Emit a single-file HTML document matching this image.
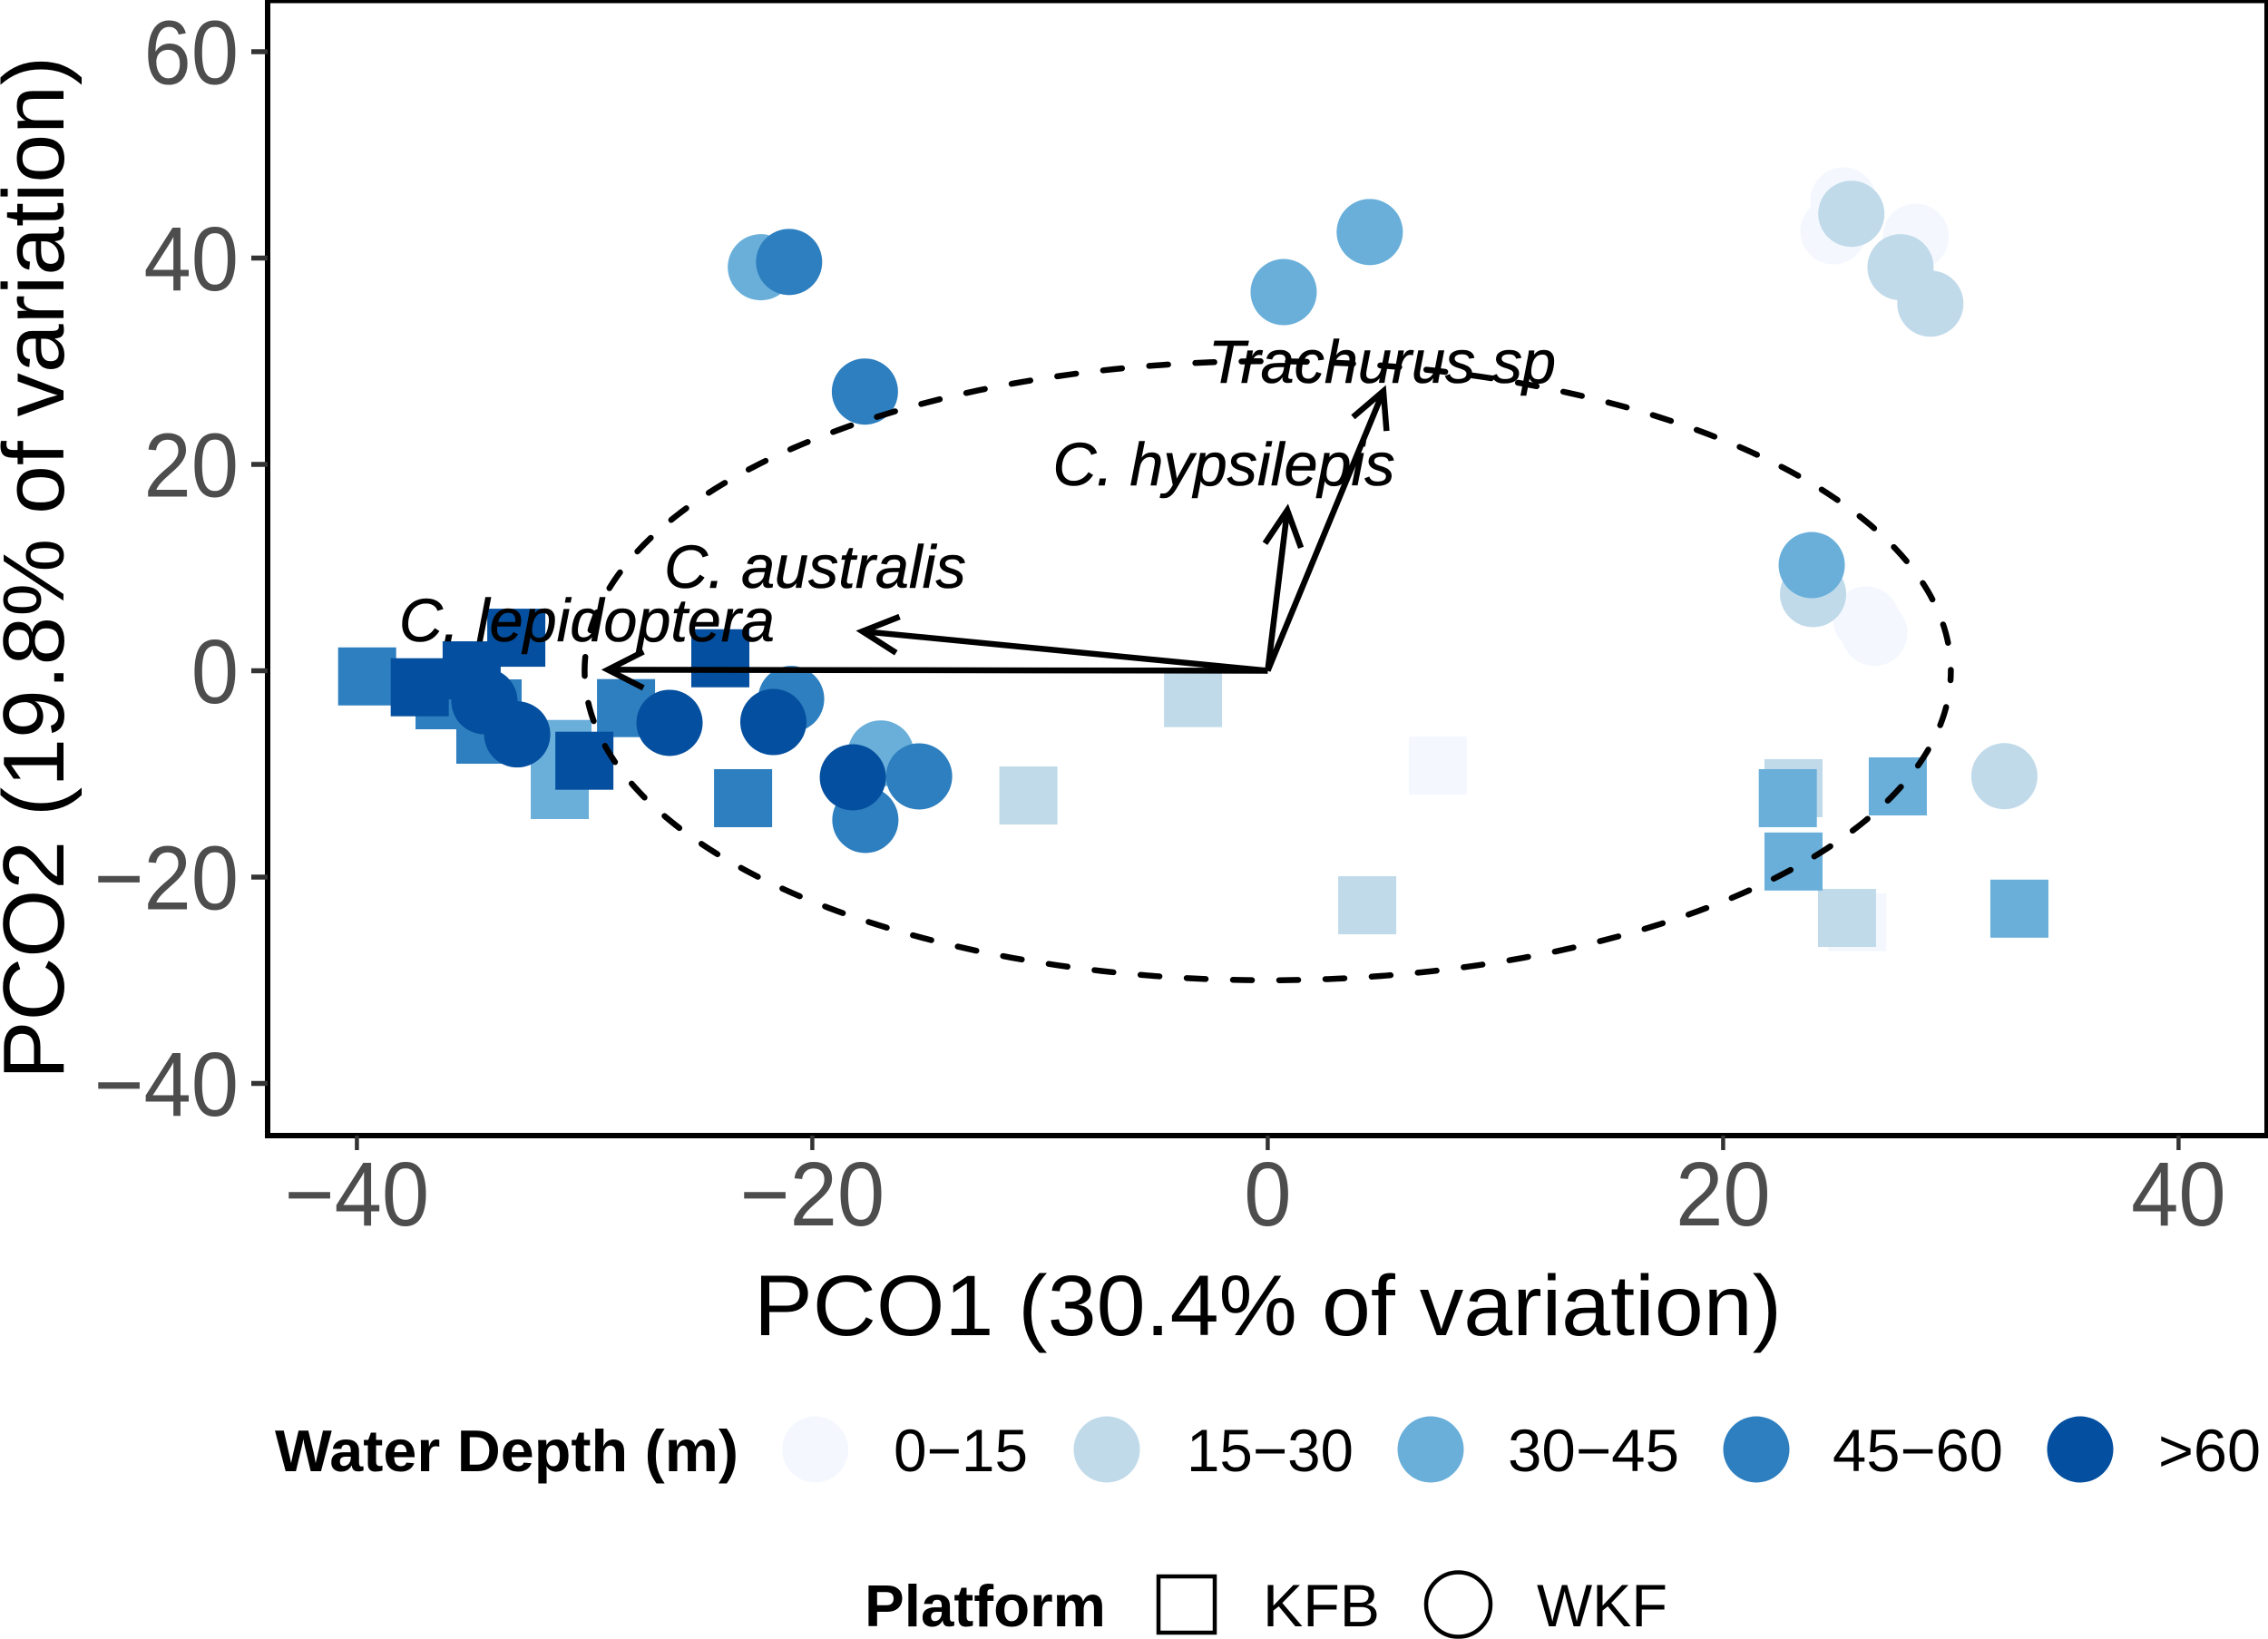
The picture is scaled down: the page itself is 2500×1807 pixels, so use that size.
<!DOCTYPE html>
<html lang="en">
<head>
<meta charset="utf-8">
<title>PCO ordination of water depth and platform</title>
<style>
  html, body { margin: 0; padding: 0; background: #fff; }
  svg { display: block; font-family: "Liberation Sans", Arial, sans-serif; }
</style>
</head>
<body>
<svg id="chart" xmlns="http://www.w3.org/2000/svg" width="2500" height="1807" viewBox="0 0 2500 1807">
  <rect x="0" y="0" width="2500" height="1807" fill="#ffffff"/>
  <g id="points"></g>
  <path id="circle-guide" fill="none" stroke="#000" stroke-width="6.5" stroke-linecap="round" stroke-dasharray="21 30" stroke-dashoffset="10.5"/>
  <g id="arrows"></g>
  <g id="arrow-labels"></g>
  <rect x="295" y="1.5" width="2203" height="1250.5" fill="none" stroke="#000" stroke-width="4"/>
  <line x1="295" y1="0" x2="295" y2="1255" stroke="#000" stroke-width="6"/>
  <line x1="292" y1="1252" x2="2500" y2="1252" stroke="#000" stroke-width="6"/>
  <g id="x-axis"></g>
  <g id="y-axis"></g>
  <text x="831" y="1472" font-size="95" textLength="1133" lengthAdjust="spacingAndGlyphs" fill="#000">PCO1 (30.4% of variation)</text>
  <text transform="translate(70,1190) rotate(-90)" x="0" y="0" font-size="96" textLength="1128" lengthAdjust="spacingAndGlyphs" fill="#000">PCO2 (19.8% of variation)</text>

  <g>
    <text x="303" y="1622" font-size="65" font-weight="bold" textLength="511" lengthAdjust="spacingAndGlyphs">Water Depth (m)</text>
    <circle cx="898.6" cy="1598" r="36.5" fill="#F4F8FE"/>
    <text x="985" y="1622" font-size="66" textLength="148" lengthAdjust="spacingAndGlyphs">0−15</text>
    <circle cx="1220" cy="1598" r="36.5" fill="#C0DAEA"/>
    <text x="1308" y="1622" font-size="66" textLength="184" lengthAdjust="spacingAndGlyphs">15−30</text>
    <circle cx="1577" cy="1598" r="36.5" fill="#69AFDA"/>
    <text x="1662" y="1622" font-size="66" textLength="189" lengthAdjust="spacingAndGlyphs">30−45</text>
    <circle cx="1936" cy="1598" r="36.5" fill="#2E7FBF"/>
    <text x="2020" y="1622" font-size="66" textLength="188" lengthAdjust="spacingAndGlyphs">45−60</text>
    <circle cx="2293" cy="1598" r="36.5" fill="#044F9F"/>
    <text x="2379" y="1622" font-size="66" textLength="113" lengthAdjust="spacingAndGlyphs">&gt;60</text>
  </g>

  <g>
    <text x="953" y="1793" font-size="65" font-weight="bold" textLength="266" lengthAdjust="spacingAndGlyphs">Platform</text>
    <rect x="1277" y="1738" width="62" height="62" fill="none" stroke="#000" stroke-width="4.5"/>
    <text x="1392" y="1793" font-size="66" textLength="129" lengthAdjust="spacingAndGlyphs">KFB</text>
    <circle cx="1607.5" cy="1769" r="35.5" fill="none" stroke="#000" stroke-width="4.5"/>
    <text x="1694" y="1793" font-size="66" textLength="144" lengthAdjust="spacingAndGlyphs">WKF</text>
  </g>
</svg>

<script>
// ---- Chart data ----
const depthCategories = ['0-15', '15-30', '30-45', '45-60', '>60'];
const depthColors = ['#F4F8FE', '#C0DAEA', '#69AFDA', '#2E7FBF', '#044F9F'];

const kfbX = [-39.55, -37.24, -34.96, -33.0, -36.15, -34.04, -34.36, -30.97, -31.09, -30.01, -28.18, -24.04, -23.04, -10.51, -3.28, 7.47, 4.37, 23.09, 22.84, 27.67, 23.09, 25.44, 25.9, 33.01];
const kfbY = [-0.55, -1.6, 0.04, 3.2, -2.86, -3.65, -6.2, -7.58, -11.56, -8.72, -3.62, 1.21, -12.35, -12.09, -2.65, -9.19, -22.73, -11.38, -12.35, -11.21, -18.49, -23.96, -24.37, -23.06];
const kfbDepth = [3, 4, 4, 4, 3, 3, 3, 2, 2, 4, 3, 4, 3, 1, 1, 0, 1, 1, 2, 2, 2, 1, 0, 2];

const wkfX = [-34.4, -32.96, -26.27, -20.93, -21.71, -16.99, -18.22, -15.31, -17.67, -22.26, -21.02, -17.69, 4.48, 0.7, 25.28, 24.84, 25.63, 28.46, 27.79, 29.1, 23.89, 23.95, 26.28, 26.64, 32.35];
const wkfY = [-2.95, -6.17, -5.05, -2.74, -4.97, -8.02, -10.33, -10.24, -14.46, 39.11, 39.62, 27.06, 42.52, 36.7, 45.58, 42.59, 44.29, 42.07, 39.11, 35.58, 10.24, 7.43, 4.98, 3.67, -10.22];
const wkfDepth = [4, 4, 4, 3, 4, 2, 4, 3, 3, 2, 3, 3, 2, 2, 0, 0, 1, 0, 1, 1, 2, 1, 0, 0, 1];

const arrowSpecies = ['Trachurus sp', 'C. hypsilepis', 'C. australis', 'C. lepidoptera'];
const arrowX = [5.08, 0.86, -17.8, -28.98];
const arrowY = [27.1, 15.56, 3.82, 0.1];
const arrowLabelX = [5.02, -1.93, -19.88, -29.9];
const arrowLabelY = [27.9, 17.98, 8.04, 2.86];

const circleRadius = 30;
const xTicks = [-40, -20, 0, 20, 40];
const yTicks = [-40, -20, 0, 20, 40, 60];

// ---- Axis functions ----
function xScale(v) { return 1397.4 + 25.1 * v; }
function yScale(v) { return 739.5 - 11.375 * v; }

const NS = 'http://www.w3.org/2000/svg';
function make(tag, attrs, parent) {
  const el = document.createElementNS(NS, tag);
  for (const k in attrs) el.setAttribute(k, attrs[k]);
  parent.appendChild(el);
  return el;
}
function tickText(v) { return (v < 0 ? '\u2212' : '') + Math.abs(v); }

// ---- Points: drawn light to dark so darker depths sit on top ----
const pointsLayer = document.getElementById('points');
const SQUARE = 64;
const DOT_R = 36.5;
for (let d = 0; d < depthCategories.length; d++) {
  kfbX.forEach(function (xv, i) {
    if (kfbDepth[i] !== d) return;
    const sq = make('rect', {
      x: xScale(xv) - SQUARE / 2,
      y: yScale(kfbY[i]) - SQUARE / 2,
      width: SQUARE,
      height: SQUARE,
      fill: depthColors[d]
    }, pointsLayer);
    
    
  });
  wkfX.forEach(function (xv, i) {
    if (wkfDepth[i] !== d) return;
    const dot = make('circle', {
      cx: xScale(xv),
      cy: yScale(wkfY[i]),
      r: DOT_R,
      fill: depthColors[d]
    }, pointsLayer);
    
    
  });
}

// ---- Dashed correlation circle ----
(function () {
  const parts = [];
  for (let a = 0; a <= 360; a += 1) {
    const t = a * Math.PI / 180;
    const px = xScale(circleRadius * Math.cos(t));
    const py = yScale(-circleRadius * Math.sin(t));
    parts.push((a === 0 ? 'M' : 'L') + px.toFixed(2) + ' ' + py.toFixed(2));
  }
  document.getElementById('circle-guide').setAttribute('d', parts.join(' '));
})();

// ---- Arrows and their labels ----
const arrowsLayer = document.getElementById('arrows');
const labelsLayer = document.getElementById('arrow-labels');
const HEAD_LEN = 44;
const HEAD_ANGLE = 27 * Math.PI / 180;
arrowSpecies.forEach(function (name, i) {
  const x0 = xScale(0), y0 = yScale(0), x1 = xScale(arrowX[i]), y1 = yScale(arrowY[i]);
  const shaft = make('line', {
    x1: x0, y1: y0, x2: x1, y2: y1,
    stroke: '#000', 'stroke-width': 6.5
  }, arrowsLayer);
  
  

  const back = Math.atan2(y0 - y1, x0 - x1);
  const ax = x1 + HEAD_LEN * Math.cos(back + HEAD_ANGLE);
  const ay = y1 + HEAD_LEN * Math.sin(back + HEAD_ANGLE);
  const bx = x1 + HEAD_LEN * Math.cos(back - HEAD_ANGLE);
  const by = y1 + HEAD_LEN * Math.sin(back - HEAD_ANGLE);
  const head = make('polyline', {
    points: ax + ',' + ay + ' ' + x1 + ',' + y1 + ' ' + bx + ',' + by,
    fill: 'none', stroke: '#000', 'stroke-width': 6.5
  }, arrowsLayer);
  
  

  const label = make('text', {
    x: xScale(arrowLabelX[i]),
    y: yScale(arrowLabelY[i]),
    'text-anchor': 'middle',
    'font-size': 66.5,
    'font-style': 'italic',
    fill: '#000',
    stroke: '#000',
    'stroke-width': 0.6
  }, labelsLayer);
  
  
  label.textContent = name;
});

// ---- Axes ----
const xAxis = document.getElementById('x-axis');
xTicks.forEach(function (v) {
  const tick = make('line', {
    x1: xScale(v), x2: xScale(v), y1: 1252, y2: 1268,
    stroke: '#333', 'stroke-width': 4.5
  }, xAxis);
  
  

  const txt = make('text', {
    transform: 'translate(' + xScale(v) + ',1351) scale(0.94,1)',
    'text-anchor': 'middle',
    'font-size': 100,
    fill: '#4D4D4D'
  }, xAxis);
  
  
  txt.textContent = tickText(v);
});

const yAxis = document.getElementById('y-axis');
yTicks.forEach(function (v) {
  const tick = make('line', {
    x1: 277, x2: 295, y1: yScale(v), y2: yScale(v),
    stroke: '#333', 'stroke-width': 5.5
  }, yAxis);
  
  

  const txt = make('text', {
    transform: 'translate(263,' + (yScale(v) + 35.5) + ') scale(0.94,1)',
    'text-anchor': 'end',
    'font-size': 100,
    fill: '#4D4D4D'
  }, yAxis);
  
  
  txt.textContent = tickText(v);
});
</script>
</body>
</html>
